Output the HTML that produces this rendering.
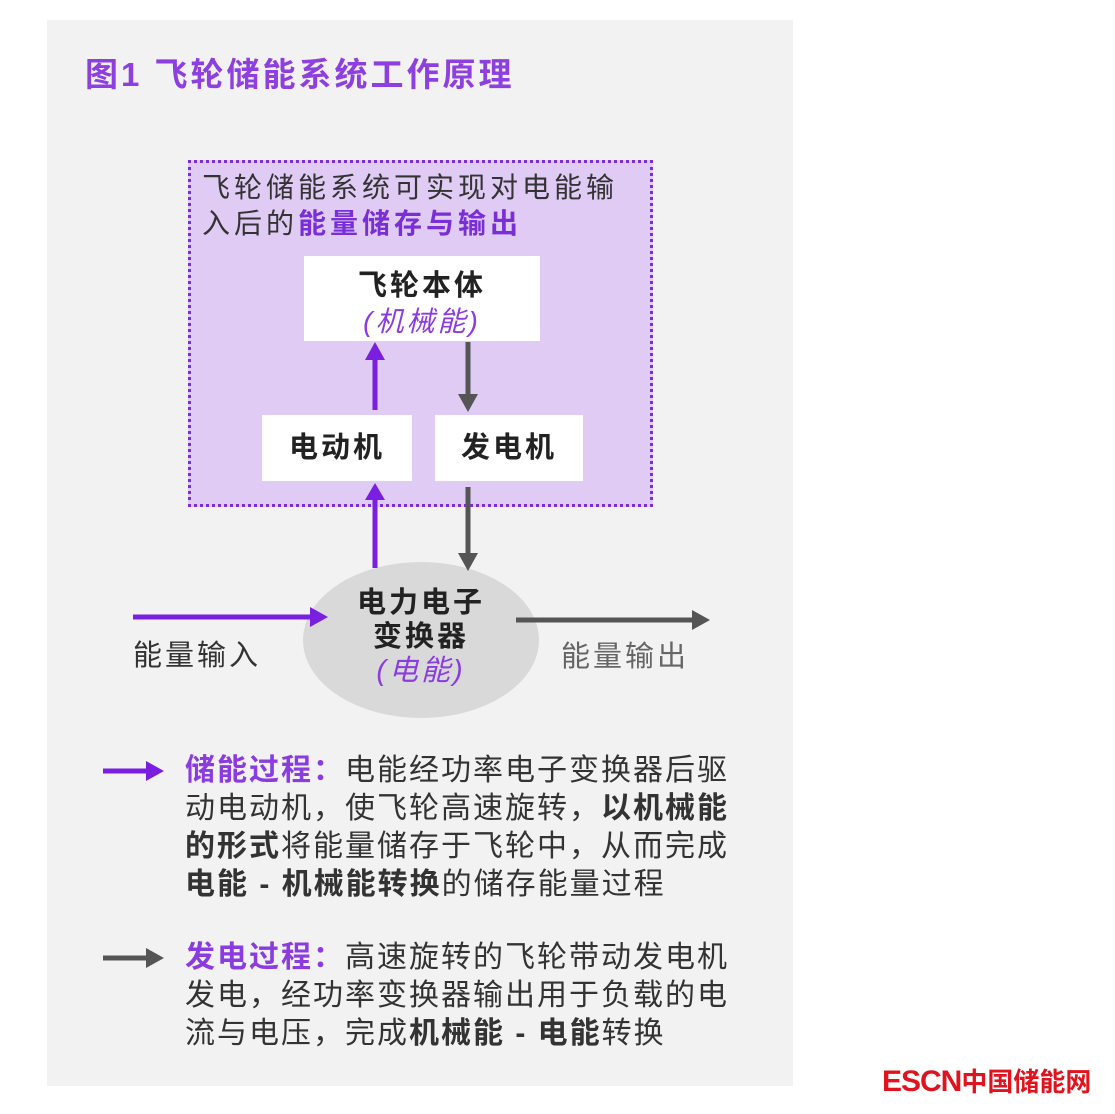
<!DOCTYPE html>
<html><head><meta charset="utf-8"><style>
body{margin:0;width:1115px;height:1114px;background:#fff;position:relative;overflow:hidden;font-family:"Liberation Sans","Noto Sans CJK SC",sans-serif;}
.a{position:absolute;white-space:nowrap}
b{font-weight:700}
.box{position:absolute;background:#fff;text-align:center;font-weight:700;color:#222;letter-spacing:3px}
</style></head><body>
<div class="a" style="left:47px;top:20px;width:746px;height:1066px;background:#f2f2f2"></div>
<div class="a" style="left:85px;top:48px;font-size:33px;font-weight:700;color:#8e3fe0;letter-spacing:3px">图1 飞轮储能系统工作原理</div>
<div class="a" style="left:188px;top:160px;width:459px;height:341px;background:#e0cbf5;border:3px dotted #7a2fd6"></div>
<div class="a" style="left:202px;top:170px;font-size:28px;line-height:36px;color:#333;letter-spacing:4px">飞轮储能系统可实现对电能输<br>入后的<b style="color:#7a2fd6">能量储存与输出</b></div>
<div class="box" style="left:304px;top:256px;width:236px;height:85px"><div style="font-size:29px;margin-top:6px">飞轮本体</div><div style="font-size:28px;font-style:italic;font-weight:400;color:#8a3ce0;margin-top:-4px">(机械能)</div></div>
<div class="box" style="left:262px;top:415px;width:150px;height:66px;line-height:66px;font-size:29px">电动机</div>
<div class="box" style="left:435px;top:415px;width:148px;height:66px;line-height:66px;font-size:29px">发电机</div>
<div class="a" style="left:303px;top:562px;width:236px;height:156px;border-radius:50%;background:#d9d9d9"></div>
<div class="a" style="left:303px;top:586px;width:236px;text-align:center;font-size:29px;line-height:34px;font-weight:700;color:#222;letter-spacing:3px">电力电子<br>变换器<br><span style="font-style:italic;font-weight:400;color:#8a3ce0">(电能)</span></div>
<svg class="a" style="left:0;top:0" width="1115" height="1114">
<g fill="none" stroke-width="5">
<line x1="375" y1="410" x2="375" y2="358" stroke="#7a1fe0"/>
<line x1="468" y1="342" x2="468" y2="396" stroke="#555"/>
<line x1="375" y1="568" x2="375" y2="498" stroke="#7a1fe0"/>
<line x1="468" y1="487" x2="468" y2="555" stroke="#555"/>
<line x1="133" y1="617" x2="312" y2="617" stroke="#7a1fe0"/>
<line x1="516" y1="620" x2="694" y2="620" stroke="#555"/>
<line x1="103" y1="771" x2="148" y2="771" stroke="#7a1fe0"/>
<line x1="103" y1="958" x2="148" y2="958" stroke="#555"/>
</g>
<polygon points="365,360 385,360 375,342" fill="#7a1fe0"/>
<polygon points="458,394 478,394 468,412" fill="#555"/>
<polygon points="365,500 385,500 375,483" fill="#7a1fe0"/>
<polygon points="458,553 478,553 468,571" fill="#555"/>
<polygon points="310,607 310,627 328,617" fill="#7a1fe0"/>
<polygon points="692,610 692,630 710,620" fill="#555"/>
<polygon points="146,761 146,781 164,771" fill="#7a1fe0"/>
<polygon points="146,948 146,968 164,958" fill="#555"/>
</svg>
<div class="a" style="left:133px;top:632px;font-size:29px;color:#333;letter-spacing:3px">能量输入</div>
<div class="a" style="left:561px;top:633px;font-size:29px;color:#666;letter-spacing:3px">能量输出</div>
<div class="a" style="left:185px;top:752px;font-size:30px;line-height:38px;color:#333;letter-spacing:2px">
<b style="color:#8a3ce0">储能过程：</b>电能经功率电子变换器后驱<br>动电动机，使飞轮高速旋转，<b>以机械能</b><br><b>的形式</b>将能量储存于飞轮中，从而完成<br><b>电能 - 机械能转换</b>的储存能量过程</div>
<div class="a" style="left:185px;top:939px;font-size:30px;line-height:38px;color:#333;letter-spacing:2px">
<b style="color:#8a3ce0">发电过程：</b>高速旋转的飞轮带动发电机<br>发电，经功率变换器输出用于负载的电<br>流与电压，完成<b>机械能 - 电能</b>转换</div>
<div class="a" style="left:882px;top:1062px;font-size:30px;font-weight:700;color:#e0141e;letter-spacing:-1px">ESCN<span style="font-size:26px;letter-spacing:0">中国储能网</span></div>
</body></html>
